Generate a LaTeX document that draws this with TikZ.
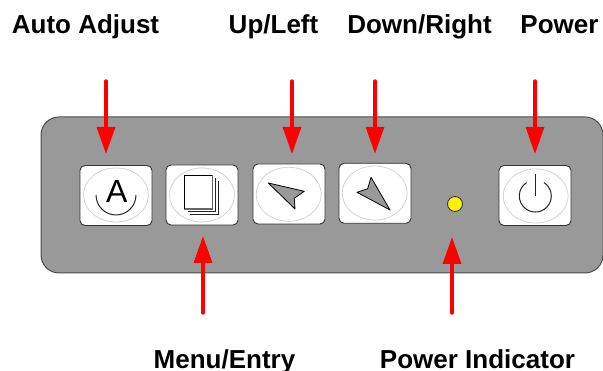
\documentclass[tikz,border=0pt]{standalone}
\usepackage{fontspec}
\setmainfont{Liberation Sans}
\usetikzlibrary{positioning}
\usetikzlibrary{arrows.meta,shapes.geometric}
\definecolor{panelgray}{HTML}{999999}
\definecolor{ringgray}{HTML}{D4D4D4}
\tikzset{
  panel/.style={draw=black!70,line width=1pt,fill=panelgray,rounded corners=18pt,
                minimum width=562pt,minimum height=156pt,outer sep=0pt},
  btn/.style={draw=black!80,line width=0.9pt,fill=white,rounded corners=5pt,
              minimum width=72pt,minimum height=60pt,outer sep=0pt,inner sep=0pt},
  ring/.style={draw=ringgray,line width=0.8pt,ellipse,minimum width=65pt,minimum height=54pt,
               inner sep=0pt,outer sep=0pt},
  pointer/.style={draw=red,line width=3.4pt,line cap=round,-{Triangle[width=18pt,length=27pt,fill=red]}},
  lbl/.style={font=\fontsize{26}{28}\selectfont\bfseries,anchor=base,inner sep=0pt},
  icon/.style={draw=black!85,line width=1pt},
  pen/.style={draw=black,line width=0.8pt,fill=panelgray,line join=round}
}
\begin{document}
\begin{tikzpicture}[x=1pt,y=1pt]
\useasboundingbox (0,0) rectangle (603,371);
\node[panel] (front) at (322,176) {};
% buttons
\node[btn] (btnAuto) at (116,175.5) {};
\node[btn,right=14pt of btnAuto,yshift=0.5pt] (btnMenu) {};
\node[btn,right=15pt of btnMenu,yshift=1pt] (btnUp) {};
\node[btn,right=14pt of btnUp,yshift=0.7pt] (btnDown) {};
\node[btn] (btnPower) at (535,175.5) {};
\node[ring] (ringAuto) at (116,176) {};
\node[ring] (ringMenu) at (202,176) {};
\node[ring] (ringUp) at (288.7,176.7) {};
\node[ring] (ringDown) at (374.7,178) {};
\node[ring] (ringPower) at (535.7,175) {};
% auto adjust icon
\node[font=\fontsize{32}{32}\selectfont,inner sep=0pt] (glyphA) at (116.7,179.5) {A};
\draw[icon] (136,176) arc (0:-180:20);
% menu icon
\draw[icon,line width=0.8pt] (215,193) -- (215,159.7) -- (187.7,159.7);
\draw[icon,line width=0.8pt] (218.3,189.7) -- (218.3,157) -- (190,157);
\draw[draw=black!60,line width=1.5pt,fill=white] (184.3,162) rectangle (212.3,195.3);
\draw[black,line width=0.7pt] (184.3,162) |- (212,195.3);
% up and down icons
\draw[pen] (268.3,188) -- (304.3,179.7) -- (294.3,172.7) -- (295,162) -- cycle;
\draw[pen] (371,193.7) -- (390,161) -- (357,178.7) -- (367.7,182.3) -- cycle;
% power icon
\draw[icon] (544,188.4) arc (57:-237:16);
\draw[icon] (535.3,197) -- (535.3,175);
% indicator
\node[circle,draw=black!80,line width=0.9pt,fill=yellow,minimum size=15pt,inner sep=0pt,outer sep=0pt] (led) at (455,167) {};
% labels
\node[lbl] (lblAuto) at (85.5,337) {Auto Adjust};
\node[lbl] (lblUp) at (273.5,337) {Up/Left};
\node[lbl] (lblDown) at (419.5,337) {Down/Right};
\node[lbl] (lblPower) at (559.5,337) {Power};
\node[lbl] (lblMenu) at (224.5,2) {Menu/Entry};
\node[lbl] (lblLed) at (477.5,2) {Power Indicator};
% pointers
\coordinate (fromAuto) at (106,290);
\coordinate (fromUp) at (292,290);
\coordinate (fromDown) at (375,290);
\coordinate (fromPower) at (535,290);
\coordinate (fromMenu) at (203,58);
\coordinate (fromLed) at (452,58);
\draw[pointer,shorten >=11.5pt] (fromAuto) -- (fromAuto |- btnAuto.north);
\draw[pointer,shorten >=10pt] (fromUp) -- (fromUp |- btnUp.north);
\draw[pointer,shorten >=9.5pt] (fromDown) -- (fromDown |- btnDown.north);
\draw[pointer,shorten >=11.5pt] (fromPower) -- (fromPower |- btnPower.north);
\draw[pointer,shorten >=11pt] (fromMenu) -- (fromMenu |- btnMenu.south);
\draw[pointer,shorten >=25.5pt] (fromLed) -- (fromLed |- led.south);
\end{tikzpicture}
\end{document}
